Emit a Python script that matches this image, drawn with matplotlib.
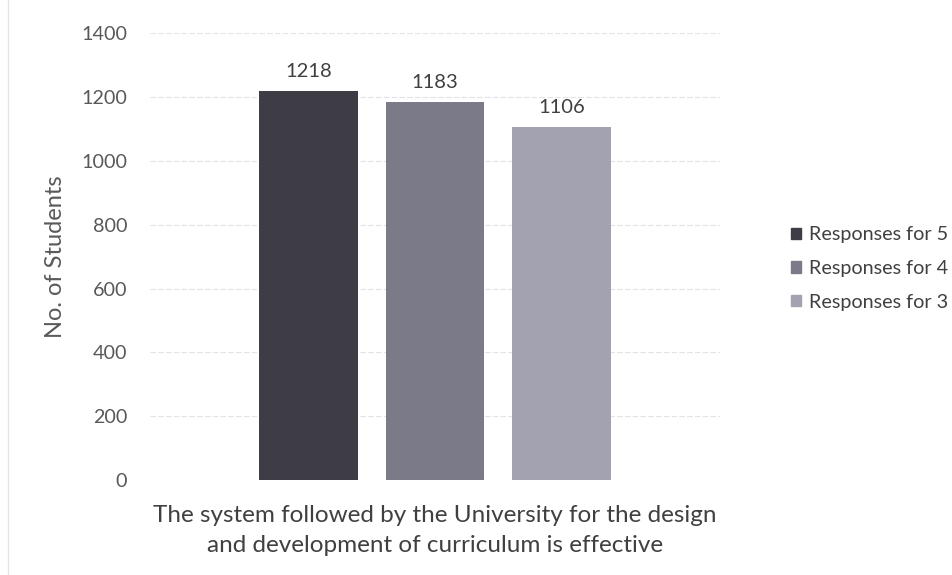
import matplotlib.pyplot as plt
import numpy as np

plt.rcParams['font.family'] = ['Lato', 'DejaVu Sans']

series = ["Responses for 5", "Responses for 4", "Responses for 3"]
values = [1218, 1183, 1106]
colors = ["#3e3d46", "#7b7a88", "#a3a2b0"]
category = "The system followed by the University for the design\nand development of curriculum is effective"
yticks = [0, 200, 400, 600, 800, 1000, 1200, 1400]

txt = "#595959"
fig = plt.figure(figsize=(9.52, 5.75), dpi=100)
ax = fig.add_axes([0.1576, 0.165, 0.5987, 0.7775])

pos = np.arange(len(values)) - 1
bars = ax.bar(pos, values, width=0.78, color=colors, label=series, zorder=3)
for x, v in zip(pos, values):
    ax.annotate(str(v), (x, v), xytext=(0, 8), textcoords="offset points",
                ha="center", va="bottom", fontsize=14.5, color="#404040")

ax.set_xlim(-2.25, 2.25)
ax.set_ylim(0, 1400)
ax.set_yticks(yticks)
ax.set_xticks([])
ax.grid(axis="y", color="#e2e2e8", linewidth=0.8, linestyle=(0, (5, 2)), zorder=0)
for s in ax.spines.values():
    s.set_visible(False)
ax.tick_params(axis="y", length=0, pad=16.5, labelsize=14.2, labelcolor=txt)
ax.set_ylabel("No. of Students", fontsize=17, color=txt)
ax.yaxis.set_label_coords(-0.148, 0.5)
ax.set_xlabel(category, fontsize=17.5, color="#404040", labelpad=18, linespacing=1.55)

handles = [plt.Rectangle((0, 0), 1, 1, color=c) for c in colors]
fig.legend(handles, series, loc="center left", bbox_to_anchor=(0.831, 0.533),
           frameon=False, fontsize=14.2, handlelength=0.5, handleheight=0.5,
           handletextpad=0.4, labelspacing=0.85, labelcolor="#404040",
           borderaxespad=0, borderpad=0)

fig.add_artist(plt.Line2D([0.008, 0.008], [0.0, 1.0], color="#e6e6ea", linewidth=1))

fig.savefig("out.png", dpi=100)
